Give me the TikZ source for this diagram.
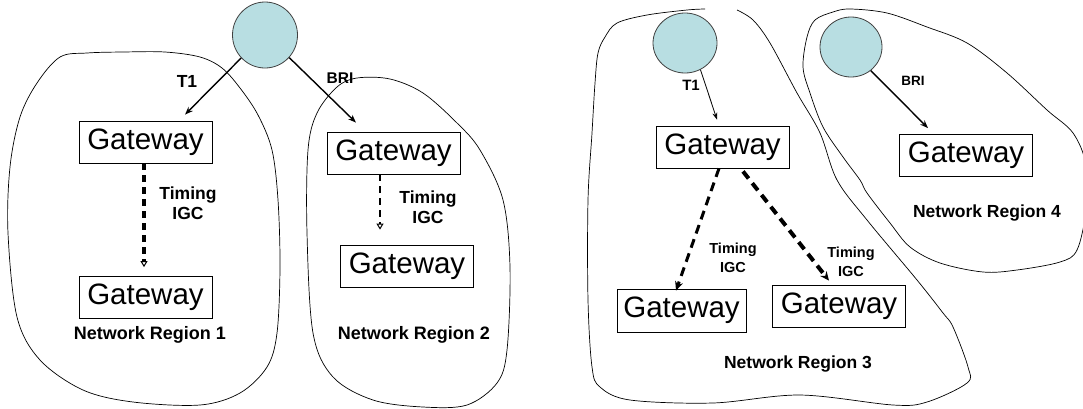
\documentclass[tikz,border=0pt]{standalone}
\usepackage{fontspec}
\setmainfont{Liberation Sans}
\usetikzlibrary{arrows.meta,shapes.geometric}
\definecolor{cfill}{RGB}{184,222,226}
\begin{document}
\begin{tikzpicture}[x=1pt,y=-1pt,
  gw/.style={draw, line width=0.8pt, minimum width=133pt, minimum height=42pt, inner sep=0pt, font=\fontsize{29.5}{29.5}\selectfont},
  cl/.style={ellipse, draw=black!75, fill=cfill, line width=0.8pt, inner sep=0pt},
  lbl/.style={font=\bfseries\fontsize{17.5}{20}\selectfont, align=center, inner sep=0pt},
  nlbl/.style={font=\bfseries\fontsize{18}{20}\selectfont, align=center, inner sep=0pt},
  slbl/.style={font=\bfseries\fontsize{14.5}{19}\selectfont, align=center, inner sep=0pt},
  region/.style={draw, line width=0.7pt},
  link/.style={line width=1.4pt, -{Stealth[length=8pt,width=6pt]}},
  thinlink/.style={line width=0.8pt, -{Stealth[length=7pt,width=5pt]}},
  igc/.style={-{Triangle[open,length=6pt,width=7pt,line width=1pt]}},
  igcf/.style={-{Stealth[length=9pt,width=8pt]}}
]
\useasboundingbox (0,0) rectangle (1083,408);

% region outlines
\draw[region] plot[smooth cycle, tension=0.55] coordinates {
 (60,57) (87,53) (123,52) (165,52) (200,57) (222,68) (240,88) (258,115) (272,150)
 (278,200) (280,267) (277,333) (267,367) (240,393) (200,405) (133,402) (83,390)
 (40,360) (17,317) (8,233) (10,167) (20,117) (37,83)};
\draw[region] plot[smooth cycle, tension=0.55] coordinates {
 (357,78) (390,79) (423,93) (457,123) (480,150) (503,200) (510,267) (507,350)
 (497,383) (467,405) (423,407) (373,400) (333,377) (313,333) (307,233) (308,150)
 (317,113) (337,87)};
\draw[region] plot[smooth, tension=0.55] coordinates {
 (705,9) (687,10) (647,15) (617,23) (605,37) (598,53) (595,83) (592,133) (588,200)
 (588,300) (592,367) (600,387) (630,400) (713,403) (800,395) (893,405) (927,402)
 (967,383) (968,367) (953,327) (943,313) (917,280) (867,220) (837,180) (820,133)
 (797,93) (770,43) (753,20) (737,10)};
\draw[region] plot[smooth cycle, tension=0.55] coordinates {
 (833,12) (850,9) (887,13) (927,27) (967,43) (1007,73) (1047,110) (1073,133)
 (1086,165) (1086,210) (1077,250) (1060,262) (1017,270) (983,272) (940,263)
 (910,247) (890,223) (867,193) (860,180) (843,157) (823,127) (810,93) (803,67)
 (807,37) (815,20)};

% circles
\node[cl, minimum width=65pt, minimum height=66pt] (c1) at (265,35) {};
\node[cl, minimum width=64pt, minimum height=60pt] (c3) at (685,43) {};
\node[cl, minimum width=62pt, minimum height=60pt] (c4) at (851,47) {};

% gateways
\node[gw] (g1a) at (145.5,142) {Gateway};
\node[gw] (g1b) at (145.5,297.5) {Gateway};
\node[gw] (g2a) at (393.5,153) {Gateway};
\node[gw] (g2b) at (407,266) {Gateway};
\node[gw] (g3a) at (722.5,147) {Gateway};
\node[gw, minimum width=129pt, minimum height=43pt] (g3b) at (681.5,310.5) {Gateway};
\node[gw] (g3c) at (839,306) {Gateway};
\node[gw] (g4) at (966,155.5) {Gateway};

% labels
\node[lbl] (t1a) at (187,81) {T1};
\node[lbl, font=\bfseries\fontsize{15.5}{18}\selectfont] (bri2) at (340,78) {BRI};
\node[lbl] (tm1) at (188,203) {Timing\\IGC};
\node[lbl] (tm2) at (428,207) {Timing\\IGC};
\node[nlbl] (nr1) at (150,335) {Network Region 1};
\node[nlbl] (nr2) at (414,335) {Network Region 2};
\node[slbl, font=\bfseries\fontsize{15}{18}\selectfont] (t1b) at (691,85) {T1};
\node[slbl] (tm3a) at (733,258) {Timing\\IGC};
\node[slbl] (tm3b) at (851,262) {Timing\\IGC};
\node[nlbl, font=\bfseries\fontsize{17.5}{20}\selectfont] (nr3) at (798,364) {Network Region 3};
\node[slbl, font=\bfseries\fontsize{13.5}{18}\selectfont] (bri4) at (913,81) {BRI};
\node[nlbl, font=\bfseries\fontsize{17.5}{20}\selectfont] (nr4) at (987,213) {Network Region 4};

% connectors
\draw[link] (c1.224) -- ([xshift=39.5pt,yshift=6pt]g1a.north);
\draw[link] (c1.317) -- ([xshift=-37.5pt,yshift=9pt]g2a.north);
\draw[thinlink] (c3.300) -- ([xshift=-5.5pt,yshift=6pt]g3a.north);
\draw[link] (c4.310) -- ([xshift=-38pt,yshift=6pt]g4.north);

\draw[igc, line width=4pt, dash pattern=on 7pt off 5pt] ([xshift=-1.5pt]g1a.south) -- ([xshift=-1.5pt,yshift=9pt]g1b.north);
\draw[igc, line width=2.5pt, dash pattern=on 7pt off 5pt] ([xshift=-13.5pt]g2a.south) -- ([xshift=-27pt,yshift=15pt]g2b.north);
\draw[igcf, line width=3pt, dash pattern=on 9pt off 6pt] ([xshift=-3.5pt]g3a.south) -- ([xshift=-5.5pt,yshift=-2pt]g3b.north);
\draw[igcf, line width=4pt, dash pattern=on 9pt off 6pt] ([xshift=20.5pt,yshift=-3pt]g3a.south) -- ([xshift=-10pt,yshift=4pt]g3c.north);
\end{tikzpicture}
\end{document}
